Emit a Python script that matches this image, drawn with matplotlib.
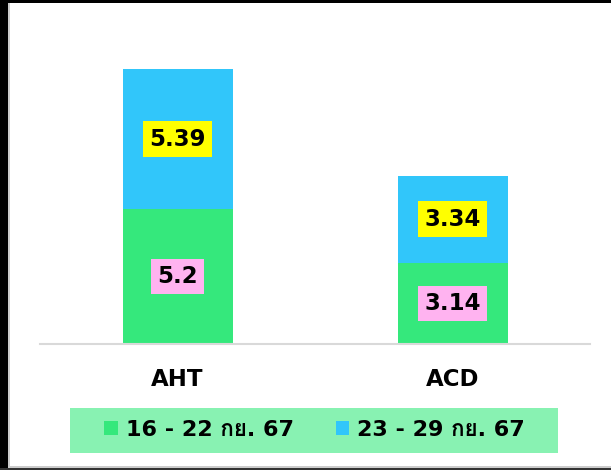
import matplotlib
matplotlib.use("Agg")
import matplotlib.pyplot as plt
from matplotlib.patches import Rectangle

categories = ["AHT", "ACD"]
series_names = ["16 - 22 กย. 67", "23 - 29 กย. 67"]
week1 = [5.2, 3.14]
week2 = [5.39, 3.34]

GREEN = "#35E87C"
BLUE = "#31C6FA"
FONTS = ["DejaVu Sans", "Loma", "Noto Sans Thai"]

fig = plt.figure(figsize=(6.11, 4.70), dpi=100)
ax = fig.add_axes([40/611, 0.268, 550/611, 0.663])
x = list(range(len(categories)))
ax.bar(x, week1, width=0.4, color=GREEN, label=series_names[0])
ax.bar(x, week2, width=0.4, bottom=week1, color=BLUE, label=series_names[1])
ax.set_xlim(-0.5, 1.5)
ax.set_ylim(0, 12)

for s in ["top", "left", "right"]:
    ax.spines[s].set_visible(False)
ax.spines["bottom"].set_color("#D9D9D9")
ax.spines["bottom"].set_linewidth(1.5)
ax.set_yticks([])
ax.set_xticks(x)
ax.set_xticklabels(categories, fontfamily=FONTS, fontweight="bold", fontsize=16.5)
ax.tick_params(axis="x", length=0, pad=17)

for i in x:
    ax.text(i, week1[i] / 2, f"{week1[i]:g}", ha="center", va="center",
            fontsize=16.5, fontweight="bold", fontfamily=FONTS,
            bbox=dict(boxstyle="square,pad=0.27", fc="#FFB3F0", ec="none"))
    ax.text(i, week1[i] + week2[i] / 2, f"{week2[i]:g}", ha="center", va="center",
            fontsize=16.5, fontweight="bold", fontfamily=FONTS,
            bbox=dict(boxstyle="square,pad=0.27", fc="#FFFF00", ec="none"))

# legend background
fig.add_artist(Rectangle((70/611, 1 - 453/470), 488/611, 45/470,
                         transform=fig.transFigure, fc="#88F2B2", ec="none", zorder=0))
leg = fig.legend(loc="center", bbox_to_anchor=(314.5/611, 1 - 430/470), ncol=2,
                 frameon=False, prop=dict(family=FONTS, weight="bold", size=16),
                 handlelength=0.6, handleheight=0.6, handletextpad=0.36,
                 columnspacing=1.9, borderpad=0)

# outer border decoration
fig.add_artist(Rectangle((0, 0), 8/611, 1, transform=fig.transFigure, fc="black", ec="none"))
fig.add_artist(Rectangle((8/611, 0), 2/611, 1, transform=fig.transFigure, fc="#CCCCCC", ec="none"))
fig.add_artist(Rectangle((0, 1 - 3/470), 1, 3/470, transform=fig.transFigure, fc="black", ec="none"))
fig.add_artist(Rectangle((0, 0), 1, 2/470, transform=fig.transFigure, fc="#333333", ec="none"))
fig.add_artist(Rectangle((8/611, 2/470), 1, 2/470, transform=fig.transFigure, fc="#CCCCCC", ec="none"))

fig.savefig("out.png", dpi=100)
